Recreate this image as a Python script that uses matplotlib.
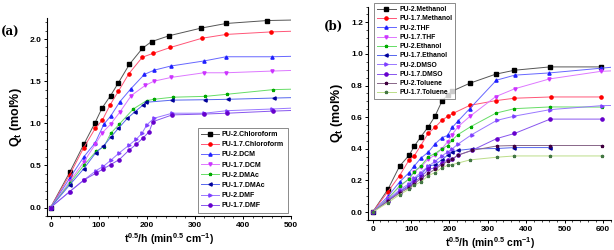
import numpy as np
import matplotlib.pyplot as plt

plt.rcParams["font.family"] = ["Liberation Sans", "DejaVu Sans"]
plt.rcParams["font.weight"] = "bold"
plt.rcParams["mathtext.fontset"] = "custom"
plt.rcParams["mathtext.rm"] = "Liberation Sans:bold"
plt.rcParams["mathtext.it"] = "Liberation Sans:bold"
plt.rcParams["mathtext.bf"] = "Liberation Sans:bold"

# ---- panel (a) data ----
a_labels = ["PU-2.Chloroform", "PU-1.7.Chloroform", "PU-2.DCM", "PU-1.7.DCM",
            "PU-2.DMAc", "PU-1.7.DMAc", "PU-2.DMF", "PU-1.7.DMF"]
a_x = [
    [0, 40, 70, 92, 107, 125, 141, 164, 191, 210, 247, 313, 365, 451, 540],
    [0, 40, 69, 93, 108, 124, 141, 163, 191, 213, 249, 315, 365, 459, 540],
    [0, 40, 69, 93, 111, 125, 144, 167, 195, 215, 250, 319, 365, 460, 540],
    [0, 40, 69, 93, 108, 125, 145, 168, 197, 215, 251, 319, 365, 460, 540],
    [0, 40, 69, 95, 111, 125, 143, 172, 200, 215, 254, 322, 367, 463, 540],
    [0, 40, 69, 94, 110, 126, 141, 160, 176, 193, 199, 253, 322, 368, 465, 540],
    [0, 40, 70, 95, 110, 125, 143, 163, 178, 190, 200, 215, 253, 320, 367, 461, 540],
    [0, 40, 70, 95, 110, 125, 143, 163, 178, 193, 205, 213, 253, 320, 367, 463, 540],
]
a_y = [
    [0, 0.42, 0.76, 1.00, 1.18, 1.33, 1.48, 1.70, 1.89, 1.97, 2.04, 2.13, 2.185, 2.22, 2.23],
    [0, 0.39, 0.71, 0.94, 1.04, 1.22, 1.38, 1.59, 1.785, 1.83, 1.90, 2.01, 2.055, 2.085, 2.10],
    [0, 0.35, 0.60, 0.77, 0.99, 1.085, 1.255, 1.41, 1.58, 1.63, 1.68, 1.74, 1.79, 1.79, 1.80],
    [0, 0.31, 0.54, 0.75, 0.89, 0.99, 1.14, 1.33, 1.45, 1.50, 1.545, 1.60, 1.60, 1.62, 1.635],
    [0, 0.29, 0.50, 0.67, 0.72, 0.88, 0.99, 1.17, 1.27, 1.285, 1.31, 1.32, 1.345, 1.40, 1.41],
    [0, 0.27, 0.46, 0.65, 0.73, 0.84, 0.94, 1.06, 1.14, 1.22, 1.25, 1.275, 1.28, 1.285, 1.30, 1.31],
    [0, 0.19, 0.33, 0.44, 0.49, 0.56, 0.65, 0.74, 0.81, 0.88, 0.98, 1.06, 1.12, 1.12, 1.15, 1.17, 1.19],
    [0, 0.19, 0.33, 0.41, 0.46, 0.51, 0.57, 0.68, 0.75, 0.83, 0.90, 1.02, 1.10, 1.11, 1.12, 1.145, 1.16],
]

# ---- panel (b) data ----
b_labels = ["PU-2.Methanol", "PU-1.7.Methanol", "PU-2.THF", "PU-1.7.THF",
            "PU-2.Ethanol", "PU-1.7.Ethanol", "PU-2.DMSO", "PU-1.7.DMSO",
            "PU-2.Toluene", "PU-1.7.Toluene"]
b_x = [
    [0, 40, 70, 95, 108, 125, 145, 162, 180, 195, 207, 253, 320, 369, 461, 595],
    [0, 40, 70, 95, 108, 125, 145, 162, 180, 195, 210, 253, 321, 369, 464, 595],
    [0, 40, 70, 95, 108, 125, 145, 162, 180, 195, 207, 222, 253, 322, 370, 460, 595, 640],
    [0, 40, 70, 95, 108, 125, 145, 162, 180, 195, 207, 222, 253, 320, 370, 460, 594, 640],
    [0, 40, 70, 95, 108, 125, 145, 162, 180, 195, 207, 222, 255, 321, 369, 462, 596],
    [0, 40, 70, 95, 108, 125, 145, 162, 180, 195, 207, 222, 258, 323, 369, 462],
    [0, 40, 70, 95, 108, 125, 145, 162, 180, 195, 207, 222, 258, 323, 369, 462, 596, 640],
    [0, 40, 70, 95, 108, 125, 145, 162, 180, 195, 207, 222, 258, 323, 369, 462, 596],
    [0, 40, 70, 95, 108, 125, 145, 162, 180, 195, 207, 222, 258, 323, 369, 462, 596],
    [0, 40, 70, 95, 108, 125, 145, 162, 180, 195, 207, 222, 253, 323, 369, 462, 596],
]
b_y = [
    [0, 0.145, 0.29, 0.36, 0.415, 0.475, 0.54, 0.605, 0.70, 0.74, 0.765, 0.815, 0.872, 0.897, 0.918, 0.918],
    [0, 0.13, 0.23, 0.33, 0.355, 0.42, 0.50, 0.535, 0.58, 0.605, 0.625, 0.675, 0.705, 0.72, 0.728, 0.728],
    [0, 0.10, 0.19, 0.25, 0.29, 0.34, 0.38, 0.43, 0.47, 0.485, 0.535, 0.575, 0.655, 0.834, 0.866, 0.88, 0.91, 0.92],
    [0, 0.09, 0.16, 0.21, 0.255, 0.285, 0.335, 0.36, 0.40, 0.445, 0.49, 0.54, 0.605, 0.73, 0.78, 0.842, 0.89, 0.895],
    [0, 0.085, 0.165, 0.21, 0.255, 0.29, 0.35, 0.37, 0.40, 0.42, 0.455, 0.49, 0.54, 0.626, 0.654, 0.665, 0.664],
    [0, 0.075, 0.13, 0.17, 0.21, 0.235, 0.29, 0.30, 0.33, 0.36, 0.38, 0.39, 0.40, 0.402, 0.408, 0.408],
    [0, 0.08, 0.14, 0.18, 0.215, 0.25, 0.29, 0.32, 0.355, 0.38, 0.40, 0.43, 0.49, 0.58, 0.607, 0.648, 0.673, 0.675],
    [0, 0.07, 0.13, 0.16, 0.19, 0.22, 0.27, 0.28, 0.31, 0.33, 0.335, 0.36, 0.39, 0.465, 0.497, 0.588, 0.588],
    [0, 0.07, 0.12, 0.155, 0.18, 0.21, 0.245, 0.27, 0.30, 0.32, 0.335, 0.36, 0.39, 0.418, 0.421, 0.421, 0.421],
    [0, 0.06, 0.11, 0.145, 0.17, 0.19, 0.23, 0.25, 0.28, 0.295, 0.30, 0.31, 0.33, 0.347, 0.355, 0.355, 0.355],
]

a_colors = ["#000000", "#ff0000", "#2020ff", "#cc33ff", "#00aa00", "#000099", "#7f3fff", "#6600cc"]
a_lines = ["#555555", "#ff5577", "#6666ff", "#dd77ff", "#66dd66", "#5566ee", "#9977ff", "#8855ee"]
a_markers = ["s", "o", "^", "v", "*", "<", ">", "o"]

b_colors = ["#000000", "#ff0000", "#2020ff", "#cc33ff", "#00aa00", "#000099",
            "#7f3fff", "#6600cc", "#400040", "#447744"]
b_lines = ["#555555", "#ff5577", "#6666ff", "#dd77ff", "#66dd66", "#5566ee",
           "#9977ff", "#8855ee", "#886688", "#bbdd88"]
b_markers = ["s", "o", "^", "v", "*", "<", ">", "o", "*", "*"]

fig = plt.figure(figsize=(6.14, 2.5), dpi=100)
ax1 = fig.add_axes([0.076, 0.136, 0.398, 0.792])
ax2 = fig.add_axes([0.600, 0.120, 0.395, 0.854])

for i in range(len(a_labels)):
    ax1.plot(a_x[i], a_y[i], color=a_lines[i], lw=0.7, marker=a_markers[i],
             ms=2.3, mfc=a_colors[i], mec=a_colors[i], label=a_labels[i])
for i in range(len(b_labels)):
    ax2.plot(b_x[i], b_y[i], color=b_lines[i], lw=0.7, marker=b_markers[i],
             ms=2.3, mfc=b_colors[i], mec=b_colors[i], label=b_labels[i])

for ax in (ax1, ax2):
    ax.spines["top"].set_visible(False)
    ax.spines["right"].set_visible(False)
    ax.spines["left"].set_linewidth(0.8)
    ax.spines["bottom"].set_linewidth(0.8)
    ax.minorticks_on()
    ax.tick_params(which="major", direction="out", length=2.5, width=0.7, labelsize=6, pad=1.5)
    ax.tick_params(which="minor", direction="out", length=1.5, width=0.5)
    ax.set_xlabel(r"t$^{0.5}$/h (min$^{0.5}$ cm$^{-1}$)", fontsize=7.5, fontweight="bold", labelpad=2)
    ax.set_ylabel(r"Q$_{t}$ (mol%)", fontsize=9, fontweight="bold", labelpad=4)

ax1.set_xlim(-8, 500)
ax1.set_ylim(-0.1, 2.25)
ax1.set_xticks([0, 100, 200, 300, 400, 500])
ax1.set_yticks([0, 0.5, 1.0, 1.5, 2.0])
ax1.set_xticklabels(["0", "100", "200", "300", "400", "500"])
ax1.set_yticklabels(["0.0", "0.5", "1.0", "1.5", "2.0"])

ax2.set_xlim(-11, 620)
ax2.set_ylim(-0.05, 1.3)
ax2.set_xticks([0, 100, 200, 300, 400, 500, 600])
ax2.set_yticks([0, 0.2, 0.4, 0.6, 0.8, 1.0, 1.2])
ax2.set_xticklabels(["0", "100", "200", "300", "400", "500", "600"])
ax2.set_yticklabels(["0.0", "0.2", "0.4", "0.6", "0.8", "1.0", "1.2"])

leg1 = ax1.legend(loc="lower right", bbox_to_anchor=(1.0, 0.0),
                  prop={"weight": "bold", "size": 5}, fancybox=False, edgecolor="#555555",
                  handlelength=2.6, labelspacing=0.45, borderpad=0.5, handletextpad=0.4)
leg1.get_frame().set_linewidth(0.6)
leg2 = ax2.legend(loc="upper left", bbox_to_anchor=(0.01, 1.03),
                  prop={"weight": "bold", "size": 4.9}, fancybox=False, edgecolor="#555555",
                  handlelength=2.8, labelspacing=0.33, borderpad=0.4, handletextpad=0.5)
leg2.get_frame().set_linewidth(0.6)

fig.text(0.002, 0.855, "(a)", fontsize=8.5, fontweight="bold", family="DejaVu Serif")
fig.text(0.528, 0.88, "(b)", fontsize=8.5, fontweight="bold", family="DejaVu Serif")

fig.savefig("out.png", dpi=100)
